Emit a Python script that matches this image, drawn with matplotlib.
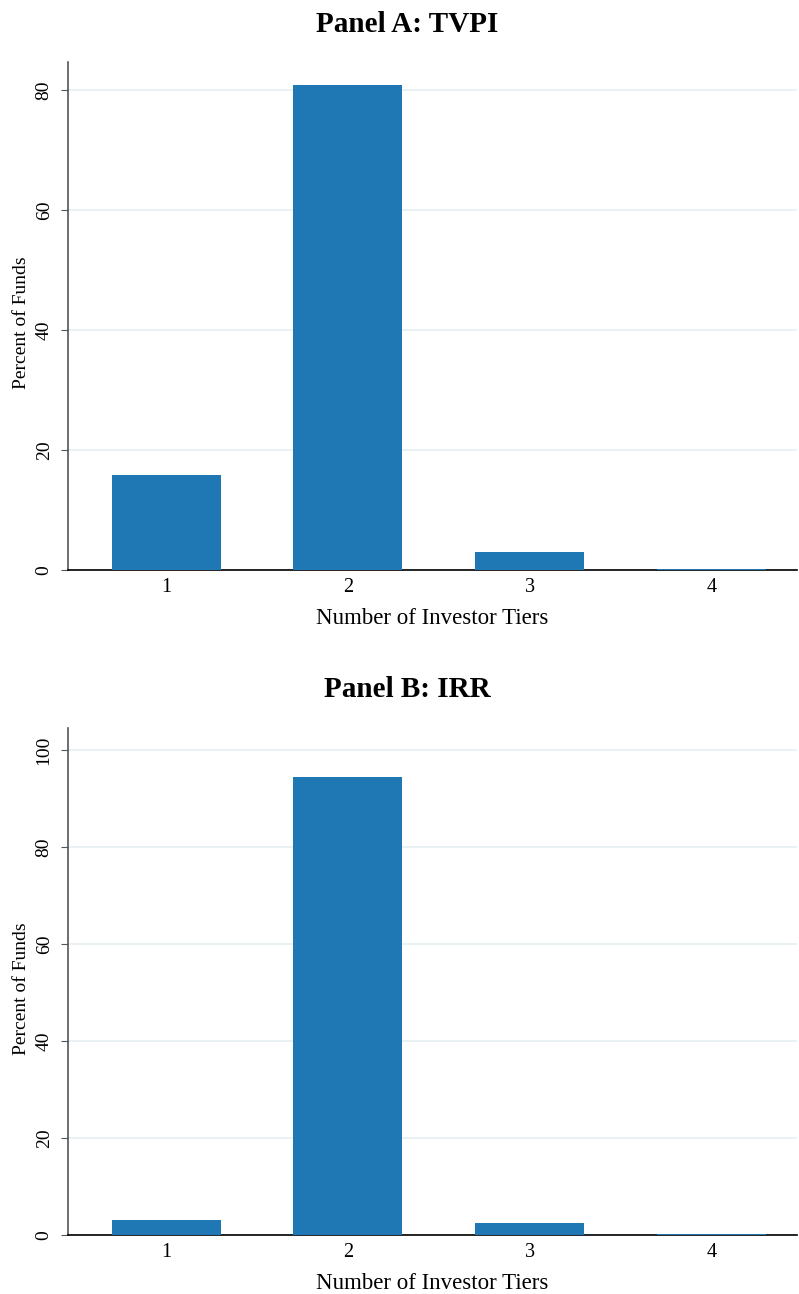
import numpy as np
import matplotlib.pyplot as plt

# data
tiers = [1, 2, 3, 4]
tvpi_pct = [15.8, 80.8, 3.0, 0.2]
irr_pct = [3.1, 94.4, 2.5, 0.2]

plt.rcParams['font.family'] = ['Liberation Serif', 'DejaVu Serif']

fig = plt.figure(figsize=(7.99, 12.94), dpi=100)

panels = [
    ("Panel A: TVPI", tvpi_pct, [0.085, 0.5595, 0.9125, 0.3925], (0, 84.7), [0, 20, 40, 60, 80]),
    ("Panel B: IRR", irr_pct, [0.085, 0.0456, 0.9125, 0.3918], (0, 104.5), [0, 20, 40, 60, 80, 100]),
]

for title, vals, pos, ylim, yticks in panels:
    ax = fig.add_axes(pos)
    ax.bar(tiers, vals, width=0.6, color='#1f77b4', zorder=3)
    ax.set_xlim(0.46, 4.47)
    ax.set_ylim(*ylim)
    ax.set_yticks(yticks)
    ax.set_xticks(tiers)
    ax.yaxis.grid(True, color='#e6eff3', linewidth=1.2, zorder=0)
    ax.spines['top'].set_visible(False)
    ax.spines['right'].set_visible(False)
    ax.spines['left'].set_color('#555555')
    ax.spines['left'].set_linewidth(1.2)
    ax.spines['bottom'].set_color('black')
    ax.spines['bottom'].set_linewidth(1.2)
    ax.tick_params(axis='y', direction='out', length=5, color='#555555',
                   labelsize=14, labelrotation=90, pad=6)
    ax.tick_params(axis='x', length=0, labelsize=14.5, pad=6)
    for lab in ax.get_yticklabels():
        lab.set_verticalalignment('center')
    ax.set_ylabel("Percent of Funds", fontsize=14)
    ax.yaxis.set_label_coords(-0.052, 0.486)
    ax.set_xlabel("Number of Investor Tiers", fontsize=16.5, labelpad=8)
    ax.set_title(title, fontsize=21, fontweight='bold', pad=22, x=0.466)

fig.savefig("out.png", dpi=100)
